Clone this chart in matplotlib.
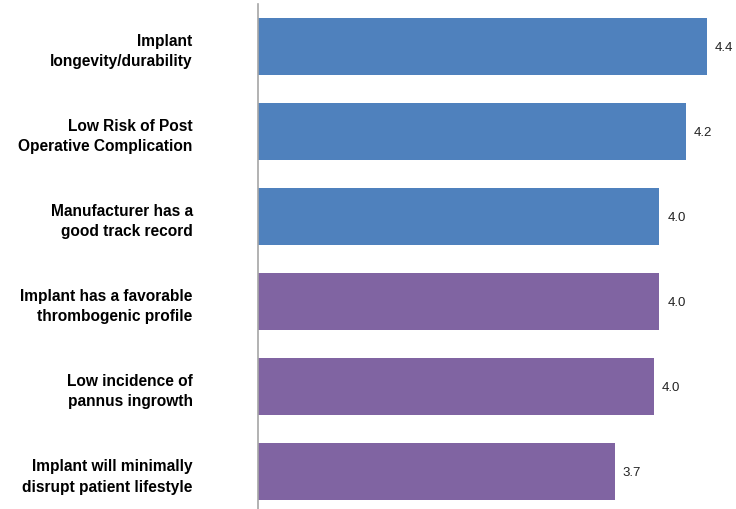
import numpy as np
import matplotlib
matplotlib.use("Agg")
from matplotlib import pyplot as plt

plt.rcParams['font.family'] = ['Liberation Sans', 'DejaVu Sans']

labels = [
    "Implant\nlongevity/durability",
    "Low Risk of Post\nOperative Complication",
    "Manufacturer has a\ngood track record",
    "Implant has a favorable\nthrombogenic profile",
    "Low incidence of\npannus ingrowth",
    "Implant will minimally\ndisrupt patient lifestyle",
]
scores = [4.40, 4.24, 4.04, 4.04, 4.00, 3.70]
value_labels = ["4.4", "4.2", "4.0", "4.0", "4.0", "3.7"]
groups = ["blue", "blue", "blue", "purple", "purple", "purple"]

palette = {"blue": "#4F81BD", "purple": "#8064A2"}
x0 = 1.0  # value axis starts here

fig = plt.figure(figsize=(7.36, 5.10), dpi=100)
ax = fig.add_axes([258 / 736, 0.0, 478 / 736, 505 / 510])

y = np.arange(len(labels))
colors = [palette[g] for g in groups]
ax.barh(y, np.array(scores) - x0, left=x0, height=0.67, color=colors)

for yi, s, t in zip(y, scores, value_labels):
    ax.text(s + 0.06, yi, t, va="center", ha="left", fontsize=9.5, color="#222222")

ax.set_xlim(x0, 4.62)
ax.set_ylim(5.435, -0.5)
ax.set_yticks(y)
ax.set_yticklabels(labels, fontsize=11.2, fontweight="bold", ha="right",
                   linespacing=1.42)
ax.tick_params(axis="y", length=0, pad=47)
ax.set_xticks([])
for side in ["top", "right", "bottom"]:
    ax.spines[side].set_visible(False)
ax.spines["left"].set_color("#A6A6A6")
ax.spines["left"].set_linewidth(1.2)

fig.savefig("out.png", dpi=100)
